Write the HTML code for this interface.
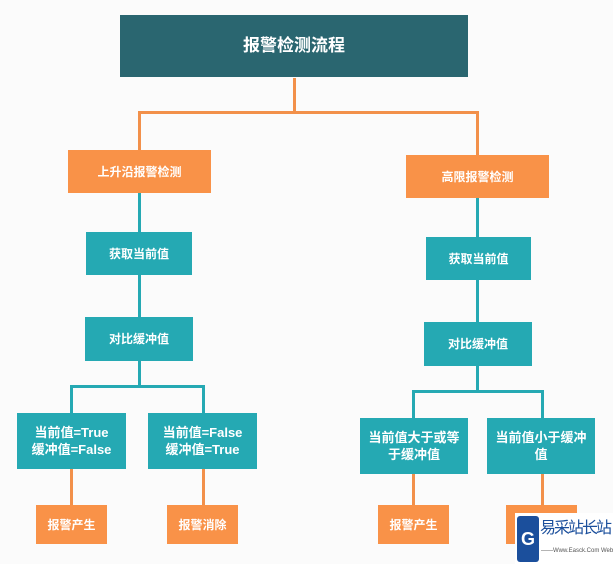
<!DOCTYPE html>
<html><head><meta charset="utf-8"><style>
body{margin:0;width:613px;height:564px;background:#fbfbfb;position:relative;overflow:hidden;font-family:"Liberation Sans","Noto Sans CJK SC",sans-serif;font-weight:bold;color:#fff}
.b{position:absolute;display:flex;align-items:center;justify-content:center;text-align:center;font-size:12px;line-height:16px}
.t{background:#2a6670;font-size:17px}
.o{background:#f99248}
.c{background:#25a9b3}
.l{position:absolute}
.lo{background:#f2904a}.lc{background:#25a9b3}
.lf{font-size:13px;line-height:17px}
</style></head><body>
<div class="b t" style="left:120px;top:15px;width:348px;height:62px">报警检测流程</div>
<div class="l lo" style="left:293px;top:78px;width:3px;height:35px"></div>
<div class="l lo" style="left:138px;top:111px;width:341px;height:3px"></div>
<div class="l lo" style="left:138px;top:111px;width:3px;height:39px"></div>
<div class="l lo" style="left:476px;top:111px;width:3px;height:44px"></div>
<div class="b o" style="left:68px;top:150px;width:143px;height:43px">上升沿报警检测</div>
<div class="b o" style="left:406px;top:155px;width:143px;height:43px">高限报警检测</div>
<div class="l lc" style="left:138px;top:193px;width:3px;height:124px"></div>
<div class="l lc" style="left:476px;top:198px;width:3px;height:124px"></div>
<div class="b c" style="left:86px;top:232px;width:106px;height:43px">获取当前值</div>
<div class="b c" style="left:426px;top:237px;width:105px;height:43px">获取当前值</div>
<div class="b c" style="left:85px;top:317px;width:108px;height:44px">对比缓冲值</div>
<div class="b c" style="left:424px;top:322px;width:108px;height:44px">对比缓冲值</div>
<div class="l lc" style="left:138px;top:361px;width:3px;height:26px"></div>
<div class="l lc" style="left:70px;top:385px;width:135px;height:3px"></div>
<div class="l lc" style="left:70px;top:385px;width:3px;height:28px"></div>
<div class="l lc" style="left:202px;top:385px;width:3px;height:28px"></div>
<div class="l lc" style="left:476px;top:366px;width:3px;height:26px"></div>
<div class="l lc" style="left:412px;top:390px;width:132px;height:3px"></div>
<div class="l lc" style="left:412px;top:390px;width:3px;height:28px"></div>
<div class="l lc" style="left:541px;top:390px;width:3px;height:28px"></div>
<div class="b c lf" style="left:17px;top:413px;width:109px;height:56px">当前值=True<br>缓冲值=False</div>
<div class="b c lf" style="left:148px;top:413px;width:109px;height:56px">当前值=False<br>缓冲值=True</div>
<div class="b c lf" style="left:360px;top:418px;width:108px;height:56px;padding:0 8px;box-sizing:border-box">当前值大于或等于缓冲值</div>
<div class="b c lf" style="left:487px;top:418px;width:108px;height:56px;padding:0 8px;box-sizing:border-box">当前值小于缓冲值</div>
<div class="l lo" style="left:70px;top:469px;width:3px;height:36px"></div>
<div class="l lo" style="left:202px;top:469px;width:3px;height:36px"></div>
<div class="l lo" style="left:412px;top:474px;width:3px;height:31px"></div>
<div class="l lo" style="left:541px;top:474px;width:3px;height:31px"></div>
<div class="b o" style="left:36px;top:505px;width:71px;height:39px">报警产生</div>
<div class="b o" style="left:167px;top:505px;width:71px;height:39px">报警消除</div>
<div class="b o" style="left:378px;top:505px;width:71px;height:39px">报警产生</div>
<div class="b o" style="left:506px;top:505px;width:71px;height:39px"></div>
<div class="l" style="left:515px;top:513px;width:98px;height:51px;background:#fff"></div>
<div class="l" style="left:517px;top:516px;width:22px;height:46px;background:#1b4f9c;border-radius:3px;color:#fff;font-size:18px;text-align:center;line-height:46px">G</div>
<div class="l" style="left:540px;top:514px;color:#1b4f9c;font-size:16px;font-weight:normal;line-height:30px;white-space:nowrap;letter-spacing:-2px">易采站长站</div>
<div class="l" style="left:541px;top:548px;color:#555;font-size:6px;font-weight:normal;white-space:nowrap">——Www.Easck.Com Webmaster</div>
</body></html>
